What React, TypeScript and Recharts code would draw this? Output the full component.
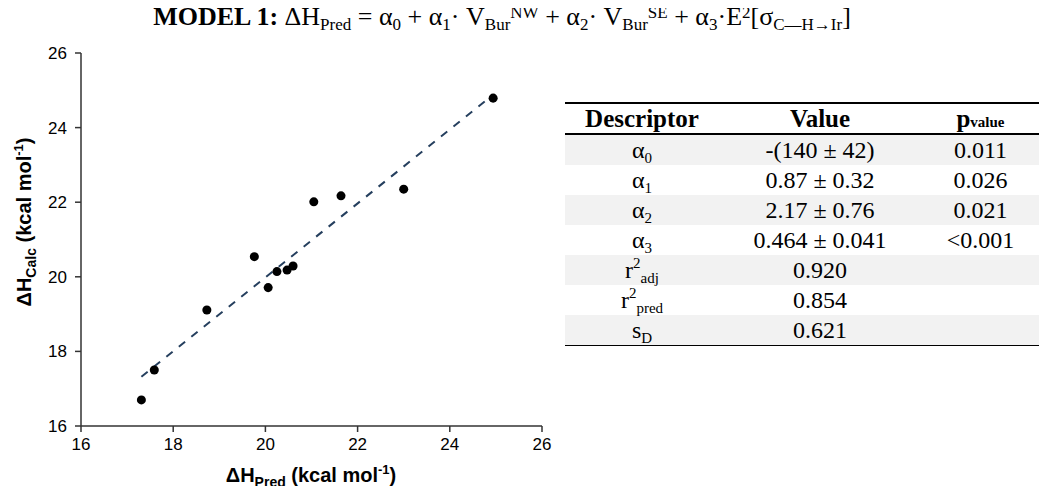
import { ScatterChart, Scatter, XAxis, YAxis, ZAxis, ReferenceLine, Label } from "recharts"

// predicted vs. calculated enthalpies (kcal/mol)
const predicted = [17.31, 17.59, 18.73, 19.76, 20.06, 20.25, 20.47, 20.6, 21.05, 21.64, 23.0, 24.94]
const calculated = [16.7, 17.5, 19.11, 20.54, 19.71, 20.14, 20.18, 20.29, 22.01, 22.17, 22.35, 24.79]
const axisTicks = [16, 18, 20, 22, 24, 26]
const fitX = [17.31, 24.94]
const fitY = [17.32, 24.88]

// regression summary table
const descSymbols = ["α", "α", "α", "α", "r", "r", "s"]
const descSups = ["", "", "", "", "2", "2", ""]
const descSubs = ["0", "1", "2", "3", "adj", "pred", "D"]
const coefValues = ["-(140 ± 42)", "0.87 ± 0.32", "2.17 ± 0.76", "0.464 ± 0.041", "0.920", "0.854", "0.621"]
const pValues = ["0.011", "0.026", "0.021", "<0.001", "", "", ""]

const points = predicted.map((x, i) => ({ x, y: calculated[i] }))
const fitSegment = fitX.map((x, i) => ({ x, y: fitY[i] }))

const sans = "'Liberation Sans', Arial, sans-serif"
const serif = "'Liberation Serif', 'Times New Roman', serif"
const axisColor = "#333"

const XTitle = () => (
  <text x={311} y={482} textAnchor="middle" fontFamily={sans} fontWeight="bold" fontSize={20} fill="#000">
    ΔH
    <tspan dy={5} fontSize={14}>Pred</tspan>
    <tspan dy={-5}> (kcal mol</tspan>
    <tspan dy={-8} fontSize={13}>-1</tspan>
    <tspan dy={8}>)</tspan>
  </text>
)

const YTitle = () => (
  <text
    x={0}
    y={0}
    transform="translate(31 222) rotate(-90)"
    textAnchor="middle"
    fontFamily={sans}
    fontWeight="bold"
    fontSize={20}
    fill="#000"
  >
    ΔH
    <tspan dy={5} fontSize={14}>Calc</tspan>
    <tspan dy={-5}> (kcal mol</tspan>
    <tspan dy={-8} fontSize={13}>-1</tspan>
    <tspan dy={8}>)</tspan>
  </text>
)

const cell = (w: number): React.CSSProperties => ({
  width: w,
  textAlign: "center",
  whiteSpace: "nowrap",
})

function SummaryTable() {
  return (
    <div
      style={{
        position: "absolute",
        left: 565,
        top: 102,
        width: 475,
        fontFamily: serif,
        color: "#000",
        borderTop: "2.5px solid #000",
        zIndex: 2,
      }}
    >
      <div style={{ display: "flex", height: 29, alignItems: "center", fontWeight: "bold", fontSize: 25, borderBottom: "2px solid #000" }}>
        <div style={cell(154)}>Descriptor</div>
        <div style={cell(202)}>Value</div>
        <div style={cell(119)}>
          p<span style={{ fontSize: 15 }}>value</span>
        </div>
      </div>
      {descSymbols.map((sym, i) => (
        <div
          key={i}
          style={{
            display: "flex",
            height: 30,
            alignItems: "center",
            fontSize: 24,
            background: i % 2 === 0 ? "#f2f2f2" : "#fff",
            borderBottom: i === descSymbols.length - 1 ? "1.5px solid #000" : "none",
          }}
        >
          <div style={cell(154)}>
            {sym}
            {descSups[i] && <span style={{ fontSize: 15, position: "relative", top: -10 }}>{descSups[i]}</span>}
            <span style={{ fontSize: 15, position: "relative", top: 5 }}>{descSubs[i]}</span>
          </div>
          <div style={cell(202)}>{coefValues[i]}</div>
          <div style={cell(119)}>{pValues[i]}</div>
        </div>
      ))}
    </div>
  )
}

function ModelTitle() {
  const s = 17
  return (
    <svg width={1047} height={44} style={{ position: "absolute", left: 0, top: 0, zIndex: 2, overflow: "visible" }}>
      <text x={502} y={25} textAnchor="middle" fontFamily={serif} fontSize={26} fill="#000">
        <tspan fontWeight="bold">MODEL 1:</tspan> ΔH
        <tspan dy={5} fontSize={s}>Pred</tspan>
        <tspan dy={-5}> = α</tspan>
        <tspan dy={5} fontSize={s}>0</tspan>
        <tspan dy={-5}> + α</tspan>
        <tspan dy={5} fontSize={s}>1</tspan>
        <tspan dy={-5}>· V</tspan>
        <tspan dy={5} fontSize={s}>Bur</tspan>
        <tspan dy={-12} fontSize={s}>NW</tspan>
        <tspan dy={7}> + α</tspan>
        <tspan dy={5} fontSize={s}>2</tspan>
        <tspan dy={-5}>· V</tspan>
        <tspan dy={5} fontSize={s}>Bur</tspan>
        <tspan dy={-12} fontSize={s}>SE</tspan>
        <tspan dy={7}> + α</tspan>
        <tspan dy={5} fontSize={s}>3</tspan>
        <tspan dy={-5}>·E</tspan>
        <tspan dy={-7} fontSize={s}>2</tspan>
        <tspan dy={7}>[σ</tspan>
        <tspan dy={5} fontSize={s}>C—H→Ir</tspan>
        <tspan dy={-5}>]</tspan>
      </text>
    </svg>
  )
}

export default function App() {
  return (
    <div style={{ position: "relative", width: 1047, height: 494, margin: -8, background: "#fff" }}>
      <ScatterChart width={1047} height={494} margin={{ top: 53, right: 505, bottom: 38, left: 41 }}>
        <XAxis
          type="number"
          dataKey="x"
          domain={[16, 26]}
          ticks={axisTicks}
          height={30}
          tickSize={6}
          tickMargin={6}
          axisLine={{ stroke: axisColor, strokeWidth: 1.5 }}
          tickLine={{ stroke: axisColor, strokeWidth: 1.5 }}
          tick={{ fill: "#000", fontSize: 17, fontFamily: sans }}
        >
          <Label content={<XTitle />} />
        </XAxis>
        <YAxis
          type="number"
          dataKey="y"
          domain={[16, 26]}
          ticks={axisTicks}
          width={40}
          tickSize={6}
          tickMargin={8}
          axisLine={{ stroke: axisColor, strokeWidth: 1.5 }}
          tickLine={{ stroke: axisColor, strokeWidth: 1.5 }}
          tick={{ fill: "#000", fontSize: 17, fontFamily: sans }}
        >
          <Label content={<YTitle />} />
        </YAxis>
        <ZAxis range={[95, 95]} />
        <ReferenceLine
          segment={fitSegment}
          stroke="#253f5e"
          strokeWidth={2}
          strokeDasharray="8 8"
          ifOverflow="visible"
        />
        <Scatter data={points} fill="#000" isAnimationActive={false} shape="circle" />
      </ScatterChart>
      <ModelTitle />
      <SummaryTable />
    </div>
  )
}
